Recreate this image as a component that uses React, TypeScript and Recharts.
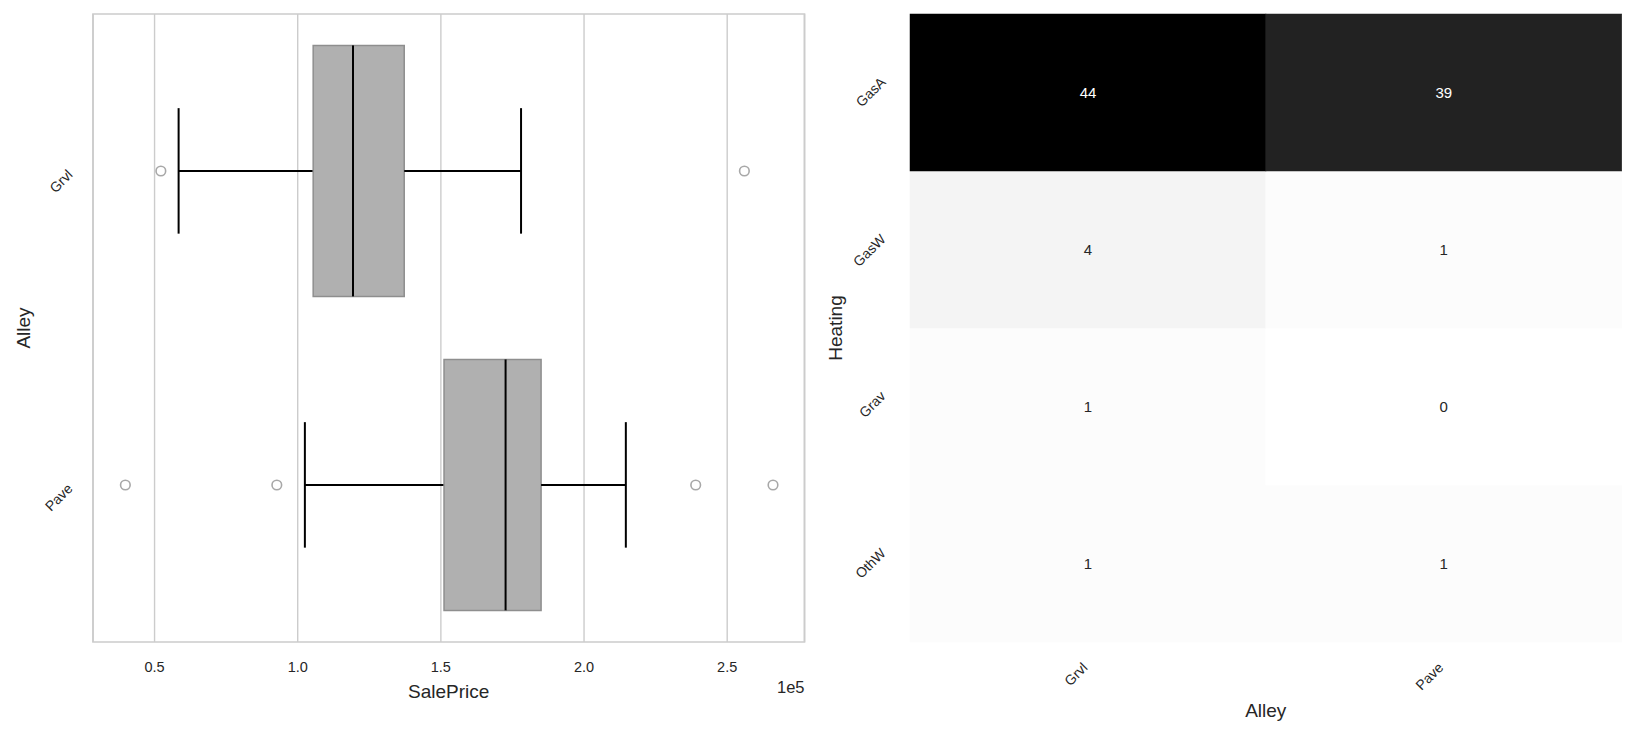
import React from "react";
import {
  ComposedChart,
  BarChart,
  Bar,
  Scatter,
  XAxis,
  YAxis,
  CartesianGrid,
  ReferenceArea,
  Label,
} from "recharts";

// ---------- Left panel: SalePrice by Alley (box plot) ----------
const ALLEY_CATS = ["Grvl", "Pave"];
const WHISKER_LOW = [58400, 102500];
const Q1 = [105400, 151100];
const MEDIAN = [119300, 172600];
const Q3 = [137200, 185000];
const WHISKER_HIGH = [178000, 214600];
const OUTLIER_CAT = ["Grvl", "Grvl", "Pave", "Pave", "Pave", "Pave"];
const OUTLIER_VAL = [52200, 256000, 39800, 92700, 239000, 266000];
const PRICE_TICKS = [50000, 100000, 150000, 200000, 250000];
const PRICE_DOMAIN = [28500, 277000];

// ---------- Right panel: Heating x Alley counts (heatmap) ----------
const HEATING_CATS = ["GasA", "GasW", "Grav", "OthW"];
const COUNT_GRVL = [44, 4, 1, 1];
const COUNT_PAVE = [39, 1, 0, 1];

const FONT = "'Liberation Sans', Arial, sans-serif";
const TEXT = "#262626";
const GRID = "#cccccc";

const boxData = ALLEY_CATS.map((c, i) => ({
  cat: c,
  base: WHISKER_LOW[i],
  wl: Q1[i] - WHISKER_LOW[i],
  bl: MEDIAN[i] - Q1[i],
  br: Q3[i] - MEDIAN[i],
  wr: WHISKER_HIGH[i] - Q3[i],
}));

const outlierData = OUTLIER_VAL.map((v, i) => ({ v, cat: OUTLIER_CAT[i] }));

const COUNTS_BY_ALLEY = [COUNT_GRVL, COUNT_PAVE];
const heatData = ALLEY_CATS.map((a, i) => {
  const row: any = { alley: a };
  HEATING_CATS.forEach((h, j) => {
    row["u_" + h] = 1;
    row["c_" + h] = COUNTS_BY_ALLEY[i][j];
  });
  return row;
});
const MAX_COUNT = Math.max(...COUNT_GRVL, ...COUNT_PAVE);

const GREYS = [255, 240, 217, 189, 150, 115, 82, 37, 0];
function greys(t: number) {
  const s = Math.max(0, Math.min(1, t)) * 8;
  const i = Math.min(7, Math.floor(s));
  const f = s - i;
  const v = Math.round(GREYS[i] + (GREYS[i + 1] - GREYS[i]) * f);
  return `rgb(${v},${v},${v})`;
}

const BOX_FILL = "#b0b0b0";
const BOX_EDGE = "#8e8e8e";

const Empty = () => null;

const WhiskerLeft = (p: any) => {
  const { x, y, width, height } = p;
  const cy = y + height / 2;
  return (
    <g>
      <line x1={x} x2={x + width} y1={cy} y2={cy} stroke="#000" strokeWidth={2} />
      <line x1={x} x2={x} y1={y + height / 4} y2={y + (3 * height) / 4} stroke="#000" strokeWidth={2} />
    </g>
  );
};
const WhiskerRight = (p: any) => {
  const { x, y, width, height } = p;
  const cy = y + height / 2;
  const xe = x + width;
  return (
    <g>
      <line x1={x} x2={xe} y1={cy} y2={cy} stroke="#000" strokeWidth={2} />
      <line x1={xe} x2={xe} y1={y + height / 4} y2={y + (3 * height) / 4} stroke="#000" strokeWidth={2} />
    </g>
  );
};
const BoxLeft = (p: any) => {
  const { x, y, width, height } = p;
  return (
    <g>
      <rect x={x} y={y} width={width} height={height} fill={BOX_FILL} />
      <path d={`M${x + width},${y}H${x}V${y + height}H${x + width}`} fill="none" stroke={BOX_EDGE} strokeWidth={1.5} />
    </g>
  );
};
const BoxRight = (p: any) => {
  const { x, y, width, height } = p;
  return (
    <g>
      <rect x={x} y={y} width={width} height={height} fill={BOX_FILL} />
      <path d={`M${x},${y}H${x + width}V${y + height}H${x}`} fill="none" stroke={BOX_EDGE} strokeWidth={1.5} />
      <line x1={x} x2={x} y1={y} y2={y + height} stroke="#000" strokeWidth={2} />
    </g>
  );
};

const Outlier = (p: any) => {
  const { cx, cy } = p;
  return <circle cx={cx} cy={cy} r={4.8} fill="#fff" stroke="#a8a8a8" strokeWidth={1.6} />;
};

const LeftYTick = (p: any) => {
  const { x, y, payload } = p;
  const ay = y + 1;
  return (
    <text
      x={x}
      y={ay}
      textAnchor="end"
      dominantBaseline="central"
      transform={`rotate(-45, ${x}, ${ay})`}
      fontSize={14}
      fontFamily={FONT}
      fill={TEXT}
    >
      {payload.value}
    </text>
  );
};

const LeftXTick = (p: any) => {
  const { x, y, payload } = p;
  return (
    <text x={x} y={y} textAnchor="middle" dominantBaseline="central" fontSize={14.5} fontFamily={FONT} fill={TEXT}>
      {(payload.value / 1e5).toFixed(1)}
    </text>
  );
};

const HeatYTick = (p: any) => {
  const { x, y, payload } = p;
  const name = HEATING_CATS[HEATING_CATS.length - 1 - Math.floor(payload.value)];
  const ay = y - 13;
  return (
    <text
      x={x}
      y={ay}
      textAnchor="end"
      dominantBaseline="central"
      transform={`rotate(-45, ${x}, ${ay})`}
      fontSize={14}
      fontFamily={FONT}
      fill={TEXT}
    >
      {name}
    </text>
  );
};

const HeatXTick = (p: any) => {
  const { x, y, payload } = p;
  const ax = x - 3;
  const ay = y - 3;
  return (
    <text
      x={ax}
      y={ay}
      textAnchor="end"
      dominantBaseline="central"
      transform={`rotate(-45, ${ax}, ${ay})`}
      fontSize={14}
      fontFamily={FONT}
      fill={TEXT}
    >
      {payload.value}
    </text>
  );
};

const makeHeatCell = (h: string) => (p: any) => {
  const { x, y, width, height, payload } = p;
  const count = payload["c_" + h];
  const t = count / MAX_COUNT;
  const fill = greys(t);
  return (
    <g>
      <rect x={x} y={y} width={width} height={height} fill={fill} stroke={fill} strokeWidth={0.5} />
      <text
        x={x + width / 2}
        y={y + height / 2}
        textAnchor="middle"
        dominantBaseline="central"
        fontSize={15}
        fontFamily={FONT}
        fill={t > 0.5 ? "#ffffff" : TEXT}
      >
        {count}
      </text>
    </g>
  );
};

const axisLabel = (text: string, dx: (vb: any) => number, dy: (vb: any) => number, rotate = false, size = 19, anchor = "middle") =>
  (props: any) => {
    const vb = props.viewBox || {};
    const x = dx(vb);
    const y = dy(vb);
    return (
      <text
        x={x}
        y={y}
        textAnchor={anchor as any}
        dominantBaseline="central"
        fontSize={size}
        fontFamily={FONT}
        fill={TEXT}
        transform={rotate ? `rotate(-90, ${x}, ${y})` : undefined}
      >
        {text}
      </text>
    );
  };

export default function App() {
  return (
    <div style={{ position: "absolute", left: 0, top: 0, width: 1636, height: 736, background: "#fff" }}>
      <div style={{ position: "absolute", left: 0, top: 0 }}>
        <ComposedChart
          width={820}
          height={736}
          data={boxData}
          layout="vertical"
          margin={{ top: 14, right: 15.5, left: 0, bottom: 0 }}
          barCategoryGap="10%"
        >
          <CartesianGrid horizontal={false} stroke={GRID} strokeWidth={1.4} />
          <XAxis
            type="number"
            dataKey="v"
            domain={PRICE_DOMAIN}
            allowDataOverflow
            ticks={PRICE_TICKS}
            height={94}
            axisLine={false}
            tickLine={false}
            tickSize={0}
            tickMargin={25}
            tick={<LeftXTick />}
          >
            <Label content={axisLabel("SalePrice", (vb) => vb.x + vb.width / 2, (vb) => vb.y + 49.5)} />
            <Label content={axisLabel("1e5", (vb) => vb.x + vb.width, (vb) => vb.y + 45, false, 16.5, "end")} />
          </XAxis>
          <YAxis
            type="category"
            dataKey="cat"
            allowDuplicatedCategory={false}
            width={93}
            axisLine={false}
            tickLine={false}
            tickSize={0}
            tickMargin={23}
            tick={<LeftYTick />}
          >
            <Label content={axisLabel("Alley", (vb) => vb.x + 23, (vb) => vb.y + vb.height / 2, true)} />
          </YAxis>
          <ReferenceArea
            x1={PRICE_DOMAIN[0]}
            x2={PRICE_DOMAIN[1]}
            fill="none"
            fillOpacity={0}
            stroke={GRID}
            strokeWidth={1.7}
            ifOverflow="visible"
          />
          <Bar dataKey="base" stackId="box" fill="transparent" shape={<Empty />} isAnimationActive={false} />
          <Bar dataKey="wl" stackId="box" shape={<WhiskerLeft />} isAnimationActive={false} />
          <Bar dataKey="bl" stackId="box" shape={<BoxLeft />} isAnimationActive={false} />
          <Bar dataKey="br" stackId="box" shape={<BoxRight />} isAnimationActive={false} />
          <Bar dataKey="wr" stackId="box" shape={<WhiskerRight />} isAnimationActive={false} />
          <Scatter data={outlierData} dataKey="v" shape={<Outlier />} isAnimationActive={false} />
        </ComposedChart>
      </div>
      <div style={{ position: "absolute", left: 820, top: 0 }}>
        <BarChart
          width={816}
          height={736}
          data={heatData}
          margin={{ top: 14, right: 14.5, left: 0, bottom: 0 }}
          barCategoryGap={0}
          barGap={0}
        >
          <XAxis
            type="category"
            dataKey="alley"
            height={94}
            axisLine={false}
            tickLine={false}
            tickSize={0}
            tickMargin={26}
            tick={<HeatXTick />}
          >
            <Label content={axisLabel("Alley", (vb) => vb.x + vb.width / 2, (vb) => vb.y + 68.6)} />
          </XAxis>
          <YAxis
            type="number"
            domain={[0, HEATING_CATS.length]}
            ticks={HEATING_CATS.map((_, i) => i + 0.5)}
            width={90}
            axisLine={false}
            tickLine={false}
            tickSize={0}
            tickMargin={27}
            tick={<HeatYTick />}
          >
            <Label content={axisLabel("Heating", (vb) => vb.x + 15.7, (vb) => vb.y + vb.height / 2, true)} />
          </YAxis>
          {[...HEATING_CATS].reverse().map((h) => (
            <Bar key={h} dataKey={"u_" + h} stackId="hm" shape={makeHeatCell(h)} isAnimationActive={false} />
          ))}
        </BarChart>
      </div>
    </div>
  );
}
